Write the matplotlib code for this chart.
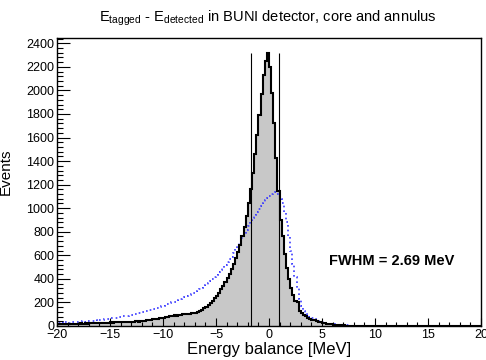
import numpy as np
import matplotlib.pyplot as plt
from matplotlib.ticker import MultipleLocator

plt.rcParams['font.family'] = ['Liberation Sans', 'DejaVu Sans']
plt.rcParams['mathtext.fontset'] = 'custom'
plt.rcParams['mathtext.rm'] = 'Liberation Sans'

# binning of both histograms: 200 bins of 0.2 MeV from -20 to 20
x_lo, x_hi, n_bins = -20, 20, 200

# core + annulus, filled histogram (counts per bin, left to right)
black_counts = [
    14, 17, 15, 18, 16, 19, 17, 20, 18, 21,
    19, 22, 20, 23, 21, 24, 22, 25, 23, 26,
    25, 28, 26, 29, 27, 31, 29, 32, 30, 33,
    31, 34, 32, 36, 34, 37, 36, 39, 38, 41,
    42, 45, 47, 51, 53, 56, 59, 63, 66, 70,
    72, 76, 80, 83, 86, 90, 88, 94, 96, 99,
    98, 104, 102, 108, 112, 110, 118, 124, 136, 150,
    165, 180, 196, 214, 236, 258, 282, 310, 340, 372,
    405, 440, 480, 525, 575, 630, 690, 760, 840, 930,
    1040, 1160, 1300, 1460, 1620, 1790, 1970, 2130, 2250, 2320,
    2200, 1980, 1720, 1430, 1150, 900, 760, 610, 490, 400,
    320, 260, 215, 200, 130, 110, 95, 82, 72, 63,
    55, 48, 42, 36, 31, 27, 23, 19, 16, 13,
    11, 9, 8, 7, 6, 5, 4, 4, 3, 3,
    3, 2, 2, 3, 2, 2, 1, 2, 2, 1,
    2, 1, 1, 2, 1, 1, 2, 1, 1, 1,
    1, 1, 2, 1, 1, 1, 1, 2, 1, 1,
    1, 1, 1, 1, 2, 1, 1, 1, 1, 1,
    1, 1, 1, 2, 1, 1, 1, 1, 1, 1,
    1, 1, 1, 1, 1, 1, 2, 1, 1, 1,
]

# second (dotted blue) histogram
blue_counts = [
    28, 24, 30, 26, 32, 29, 33, 30, 35, 32,
    37, 34, 40, 37, 43, 40, 46, 43, 49, 46,
    52, 54, 57, 59, 62, 64, 67, 69, 72, 74,
    77, 81, 84, 88, 92, 95, 99, 103, 107, 111,
    116, 121, 126, 132, 138, 144, 150, 156, 163, 170,
    174, 180, 187, 193, 200, 207, 214, 221, 228, 236,
    244, 252, 261, 270, 280, 290, 301, 312, 324, 337,
    350, 366, 382, 400, 418, 436, 455, 475, 495, 515,
    540, 565, 590, 620, 650, 680, 710, 745, 780, 815,
    850, 885, 915, 945, 970, 995, 1020, 1045, 1070, 1090,
    1105, 1118, 1128, 1138, 1120, 1080, 1040, 960, 880, 760,
    640, 530, 420, 320, 230, 170, 130, 105, 88, 74,
    64, 56, 49, 43, 37, 32, 27, 23, 19, 16,
    13, 11, 9, 8, 7, 6, 5, 5, 4, 4,
    4, 3, 3, 3, 2, 3, 2, 2, 2, 2,
    2, 1, 2, 1, 2, 1, 1, 2, 1, 1,
    1, 2, 1, 1, 1, 2, 1, 1, 1, 1,
    1, 1, 1, 2, 1, 1, 1, 1, 1, 1,
    1, 1, 1, 1, 1, 2, 1, 1, 1, 1,
    1, 1, 1, 1, 1, 1, 1, 1, 2, 1,
]

fwhm_lo, fwhm_hi = -1.72, 0.97
fwhm_text = "FWHM = 2.69 MeV"

edges = np.linspace(x_lo, x_hi, n_bins + 1)
black = np.array(black_counts)
blue = np.array(blue_counts)

fig = plt.figure(figsize=(4.86, 3.6), dpi=100)
ax = fig.add_axes([57 / 486, 1 - 326 / 360, 424 / 486, 288 / 360])

ax.stairs(black, edges, fill=True, color='#c8c8c8', zorder=1)
ax.stairs(black, edges, color='black', lw=1.5, zorder=3)
ax.stairs(blue, edges, color='#3a3aff', lw=1.2, ls=(0, (1, 1.8)), zorder=2)
ax.vlines([fwhm_lo, fwhm_hi], 0, black.max(), colors='black', lw=0.8, zorder=4)

ax.set_xlim(x_lo, x_hi)
ax.set_ylim(0, 2445)
ax.xaxis.set_major_locator(MultipleLocator(5))
ax.xaxis.set_minor_locator(MultipleLocator(1))
ax.yaxis.set_major_locator(MultipleLocator(200))
ax.yaxis.set_minor_locator(MultipleLocator(40))
ax.tick_params(axis='x', which='major', direction='in', length=6, width=0.8, labelsize=9, pad=2)
ax.tick_params(axis='x', which='minor', direction='in', length=3, width=0.8)
ax.tick_params(axis='y', which='major', direction='in', length=9, width=0.8, labelsize=9, pad=2)
ax.tick_params(axis='y', which='minor', direction='in', length=4.5, width=0.8)
ax.set_axisbelow(False)
for s in ax.spines.values():
    s.set_linewidth(1.0)
    s.set_zorder(5)

ax.set_xlabel("Energy balance [MeV]", fontsize=12)
ax.xaxis.set_label_coords(0.5, -0.055)
ax.set_ylabel("Events", fontsize=11)
ax.yaxis.set_label_coords(-0.105, 0.535)

fig.text(0.552, 1 - 18 / 360,
         r"E$_{\mathregular{tagged}}$ - E$_{\mathregular{detected}}$ in BUNI detector, core and annulus",
         ha='center', va='center', fontsize=10.5)
ax.text(392 / 486, 1 - 261 / 360, fwhm_text, transform=fig.transFigure,
        ha='center', va='center', fontsize=10.5, fontweight='bold')

fig.savefig("out.png", dpi=100)
